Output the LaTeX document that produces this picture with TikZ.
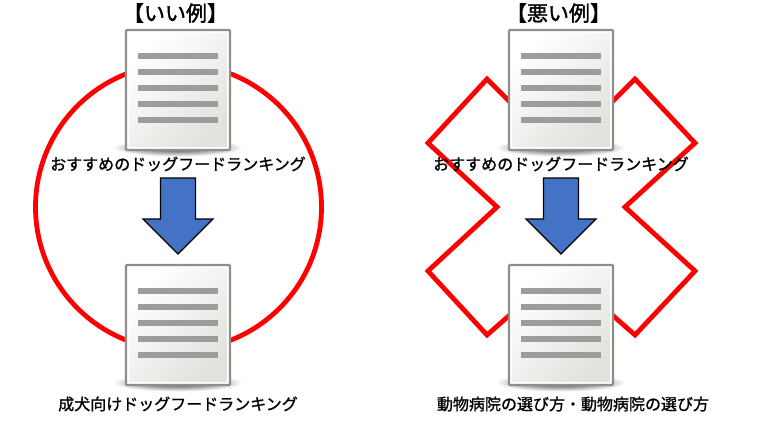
\documentclass[tikz,border=0pt]{standalone}
\usepackage{fontspec}
\setmainfont{Noto Sans CJK JP}
\newfontfamily\lblfont[FakeBold=1.2]{Noto Sans CJK JP}
\newfontfamily\ttlfont[FakeBold=1.6]{Noto Sans CJK JP}
\definecolor{docedge}{HTML}{8E8E8A}
\definecolor{docrule}{HTML}{9C9C9C}
\definecolor{arrowblue}{HTML}{4472C4}
\definecolor{docend}{HTML}{E2E2DE}
\tikzset{
  redline/.style={draw=red,line width=4.8pt,line join=miter},
  docbox/.style={draw=docedge,line width=2.2pt,rounded corners=1pt,fill=white},
  docline/.style={fill=docrule,draw=none},
  lbl/.style={font=\fontsize{16}{16}\selectfont\lblfont,text=black,inner sep=0pt},
  ttl/.style={font=\fontsize{21}{20}\selectfont\ttlfont,text=black,inner sep=0pt},
  downarrow/.style={draw=black,line width=1.3pt,fill=arrowblue,line join=miter},
}
\newcommand{\docicon}[2]{%
  \begin{scope}[shift={(#1,#2)}]
    \foreach \ss in {0,1,...,14}{%
      \pgfmathsetmacro{\rx}{66-\ss*2.6}
      \pgfmathsetmacro{\ry}{9-\ss*0.4}
      \pgfmathsetmacro{\tn}{\ss*3.6}
      \fill[black!\tn] (0,118) ellipse [x radius=\rx,y radius=\ry];
    }
    \draw[docbox] (-52,0) rectangle (52,120);
    \shade[top color=white,bottom color=docend,shading angle=45] (-48.5,3.5) rectangle (48.5,116.5);
    \foreach \yy in {26,42,58,74,90}{\fill[docline] (-40,\yy-2.6) rectangle (40,\yy+2.6);}
  \end{scope}}
\newcommand{\downarr}[1]{%
  \begin{scope}[shift={(#1,0)}]
    \draw[downarrow] (-17.5,178) -- (17.5,178) -- (17.5,219) -- (35,219) -- (0,254) -- (-35,219) -- (-17.5,219) -- cycle;
  \end{scope}}
\begin{document}
\begin{tikzpicture}[x=1pt,y=-1pt]
\useasboundingbox (0,0) rectangle (768,432);
\draw[redline] (178.5,207) circle (143);
\draw[redline] (561,153) -- (487,79) -- (428,143) -- (497,207) -- (428,271) -- (487,335) -- (561,270) -- (635,335) -- (695,271) -- (625,207) -- (695,143) -- (635,79) -- cycle;
\docicon{178}{30}
\docicon{178}{265}
\docicon{561}{30}
\docicon{561}{265}
\downarr{178}
\downarr{561}
\node[ttl] (t1) at (175.5,13) {【いい例】};
\node[ttl] (t2) at (558.5,13) {【悪い例】};
\node[lbl] (l1) at (178,164) {おすすめのドッグフードランキング};
\node[lbl] (l2) at (561,164) {おすすめのドッグフードランキング};
\node[lbl] (l3) at (178,404) {成犬向けドッグフードランキング};
\node[lbl] (l4) at (573,404) {動物病院の選び方・動物病院の選び方};
\end{tikzpicture}
\end{document}
